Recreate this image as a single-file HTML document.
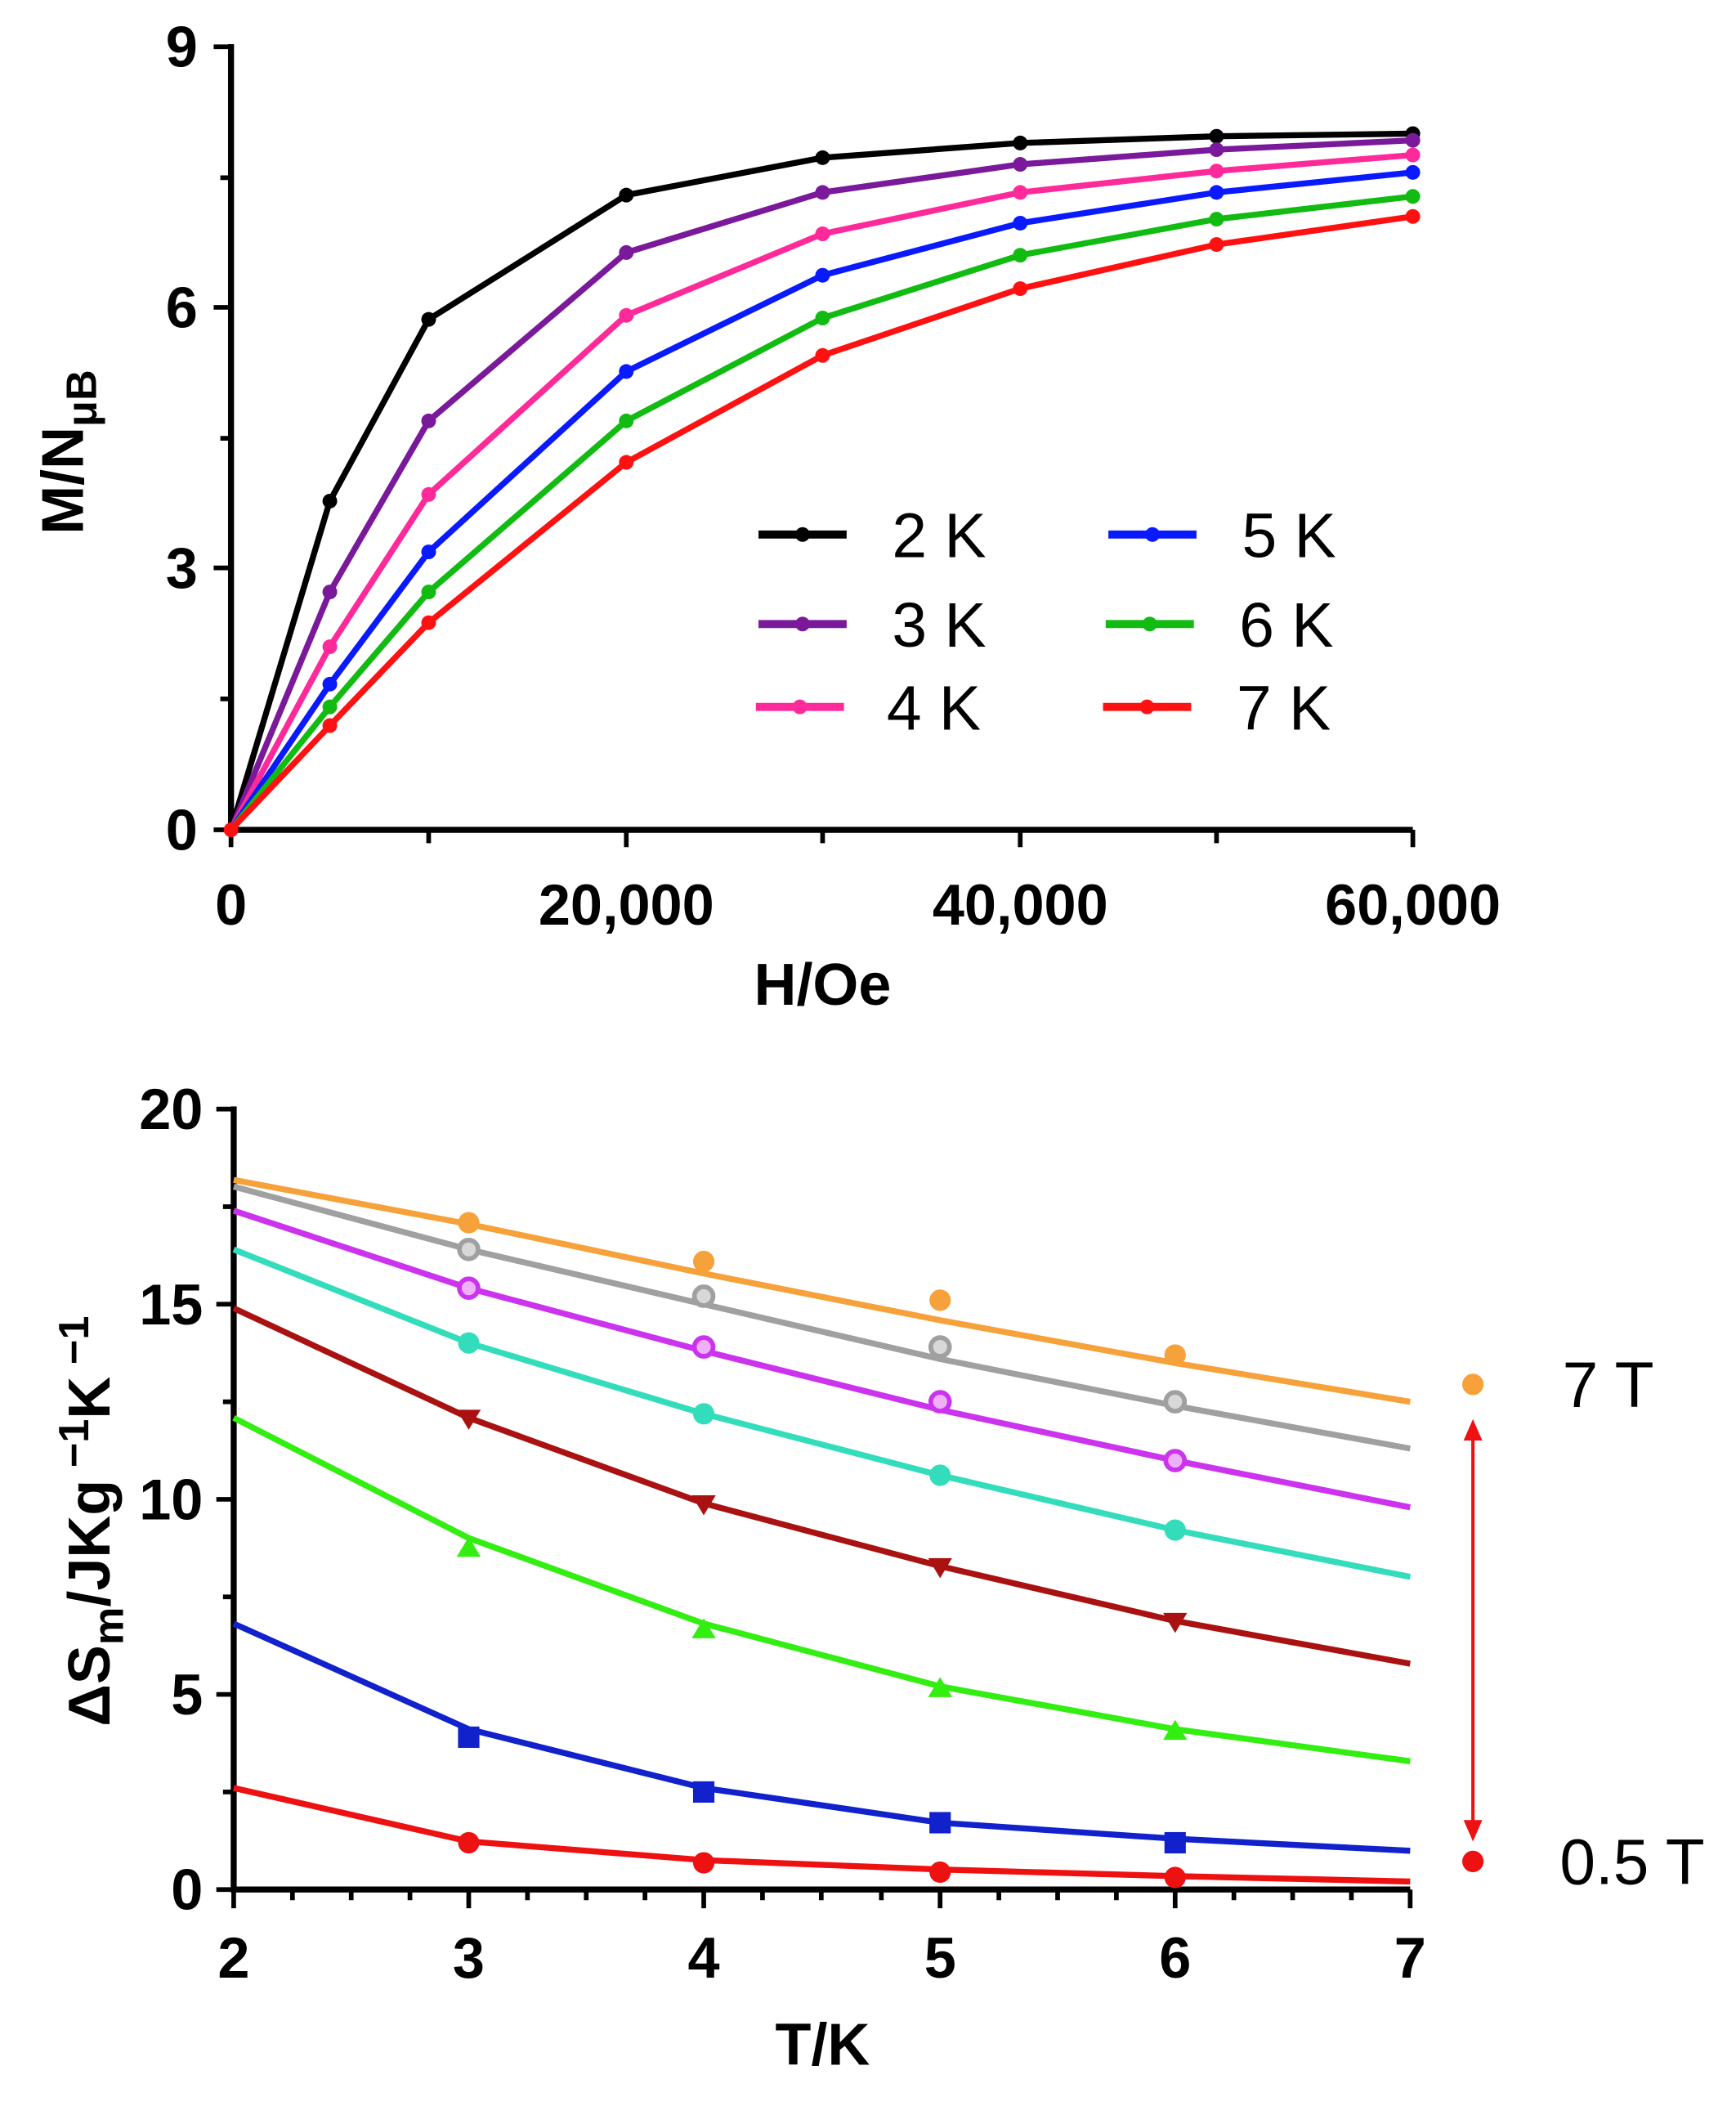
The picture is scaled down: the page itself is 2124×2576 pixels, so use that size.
<!DOCTYPE html>
<html><head><meta charset="utf-8"><style>html,body{margin:0;padding:0;background:#fff}svg{display:block}</style></head>
<body>
<svg width="2124" height="2576" viewBox="0 0 1300 1576" preserveAspectRatio="none" xmlns="http://www.w3.org/2000/svg" font-family="Liberation Sans, sans-serif">
<g stroke="#000" stroke-width="4.5" fill="none">
<path d="M173,33 V621 H1058"/>
</g>
<g stroke="#000" stroke-width="3.5">
<path d="M160,35H173 M160,230H173 M160,425H173 M160,621H173 M165,133H173 M165,328H173 M165,523H173"/>
<path d="M173,621V634 M321,621V631 M469,621V634 M616,621V631 M764,621V634 M911,621V631 M1058,621V634"/>
</g>
<g font-weight="bold" font-size="43" fill="#000">
<text x="148" y="50" text-anchor="end">9</text>
<text x="148" y="245" text-anchor="end">6</text>
<text x="148" y="440" text-anchor="end">3</text>
<text x="148" y="636" text-anchor="end">0</text>
<text x="173" y="692" text-anchor="middle">0</text>
<text x="469" y="692" text-anchor="middle">20,000</text>
<text x="764" y="692" text-anchor="middle">40,000</text>
<text x="1058" y="692" text-anchor="middle">60,000</text>
<text x="616" y="752" text-anchor="middle" font-size="44">H/Oe</text>
<text transform="translate(62,400) rotate(-90)" font-size="44">M/N<tspan font-size="32" dy="10">μB</tspan></text>
</g>
<g fill="none" stroke-width="4.5">
<polyline stroke="#000" points="173,621 247,375 321,239 469,146 616,118 764,107 911,102 1058,100"/>
<polyline stroke="#7a1a9a" points="173,621 247,443 321,315 469,189 616,144 764,123 911,112 1058,105"/>
<polyline stroke="#ff2a9a" points="173,621 247,484 321,370 469,236 616,175 764,144 911,128 1058,116"/>
<polyline stroke="#0a1aff" points="173,621 247,512 321,413 469,278 616,206 764,167 911,144 1058,129"/>
<polyline stroke="#11bb11" points="173,621 247,529 321,443 469,315 616,238 764,191 911,164 1058,147"/>
<polyline stroke="#ff1111" points="173,621 247,543 321,466 469,346 616,266 764,216 911,183 1058,162"/>
</g>
<g>
<g fill="#000"><circle cx="247" cy="375" r="5.5"/><circle cx="321" cy="239" r="5.5"/><circle cx="469" cy="146" r="5.5"/><circle cx="616" cy="118" r="5.5"/><circle cx="764" cy="107" r="5.5"/><circle cx="911" cy="102" r="5.5"/><circle cx="1058" cy="100" r="5.5"/></g>
<g fill="#7a1a9a"><circle cx="247" cy="443" r="5.5"/><circle cx="321" cy="315" r="5.5"/><circle cx="469" cy="189" r="5.5"/><circle cx="616" cy="144" r="5.5"/><circle cx="764" cy="123" r="5.5"/><circle cx="911" cy="112" r="5.5"/><circle cx="1058" cy="105" r="5.5"/></g>
<g fill="#ff2a9a"><circle cx="247" cy="484" r="5.5"/><circle cx="321" cy="370" r="5.5"/><circle cx="469" cy="236" r="5.5"/><circle cx="616" cy="175" r="5.5"/><circle cx="764" cy="144" r="5.5"/><circle cx="911" cy="128" r="5.5"/><circle cx="1058" cy="116" r="5.5"/></g>
<g fill="#0a1aff"><circle cx="247" cy="512" r="5.5"/><circle cx="321" cy="413" r="5.5"/><circle cx="469" cy="278" r="5.5"/><circle cx="616" cy="206" r="5.5"/><circle cx="764" cy="167" r="5.5"/><circle cx="911" cy="144" r="5.5"/><circle cx="1058" cy="129" r="5.5"/></g>
<g fill="#11bb11"><circle cx="247" cy="529" r="5.5"/><circle cx="321" cy="443" r="5.5"/><circle cx="469" cy="315" r="5.5"/><circle cx="616" cy="238" r="5.5"/><circle cx="764" cy="191" r="5.5"/><circle cx="911" cy="164" r="5.5"/><circle cx="1058" cy="147" r="5.5"/></g>
<g fill="#ff1111"><circle cx="173" cy="621" r="5.5"/><circle cx="247" cy="543" r="5.5"/><circle cx="321" cy="466" r="5.5"/><circle cx="469" cy="346" r="5.5"/><circle cx="616" cy="266" r="5.5"/><circle cx="764" cy="216" r="5.5"/><circle cx="911" cy="183" r="5.5"/><circle cx="1058" cy="162" r="5.5"/></g>
</g>
<g stroke-width="6">
<line x1="568" y1="400" x2="634" y2="400" stroke="#000"/>
<line x1="568" y1="467" x2="634" y2="467" stroke="#7a1a9a"/>
<line x1="566" y1="529" x2="632" y2="529" stroke="#ff2a9a"/>
<line x1="830" y1="400" x2="896" y2="400" stroke="#0a1aff"/>
<line x1="828" y1="467" x2="894" y2="467" stroke="#11bb11"/>
<line x1="826" y1="529" x2="892" y2="529" stroke="#ff1111"/>
</g>
<g><circle cx="601" cy="400" r="5.5" fill="#000"/><circle cx="601" cy="467" r="5.5" fill="#7a1a9a"/><circle cx="599" cy="529" r="5.5" fill="#ff2a9a"/><circle cx="863" cy="400" r="5.5" fill="#0a1aff"/><circle cx="861" cy="467" r="5.5" fill="#11bb11"/><circle cx="859" cy="529" r="5.5" fill="#ff1111"/></g>
<g font-size="47" fill="#000">
<text x="668" y="417">2 K</text>
<text x="668" y="484">3 K</text>
<text x="664" y="546">4 K</text>
<text x="930" y="417">5 K</text>
<text x="928" y="484">6 K</text>
<text x="926" y="546">7 K</text>
</g>

<g stroke="#000" stroke-width="4.5" fill="none"><path d="M175,828 V1414 H1056"/></g>
<g stroke="#000" stroke-width="3.5">
<path d="M162,830H175 M162,976H175 M162,1122H175 M162,1268H175 M162,1414H175 M167,903H175 M167,1049H175 M167,1195H175 M167,1341H175"/>
<path d="M175,1414V1428 M351,1414V1428 M527,1414V1428 M704,1414V1428 M880,1414V1428 M1056,1414V1428"/>
<path d="M219,1414V1422 M263,1414V1422 M307,1414V1422 M395,1414V1422 M439,1414V1422 M483,1414V1422 M571,1414V1422 M615,1414V1422 M660,1414V1422 M748,1414V1422 M792,1414V1422 M836,1414V1422 M924,1414V1422 M968,1414V1422 M1012,1414V1422"/>
</g>
<g font-weight="bold" font-size="43" fill="#000">
<text x="152" y="845" text-anchor="end">20</text>
<text x="152" y="991" text-anchor="end">15</text>
<text x="152" y="1137" text-anchor="end">10</text>
<text x="152" y="1283" text-anchor="end">5</text>
<text x="152" y="1429" text-anchor="end">0</text>
<text x="175" y="1480" text-anchor="middle">2</text>
<text x="351" y="1480" text-anchor="middle">3</text>
<text x="527" y="1480" text-anchor="middle">4</text>
<text x="704" y="1480" text-anchor="middle">5</text>
<text x="880" y="1480" text-anchor="middle">6</text>
<text x="1056" y="1480" text-anchor="middle">7</text>
<text x="616" y="1545" text-anchor="middle" font-size="44">T/K</text>
<text transform="translate(82,1292) rotate(-90)" font-size="44">ΔS<tspan font-size="32" dy="10">m</tspan><tspan dy="-10">/JKg</tspan><tspan font-size="32" dy="-16"> −1</tspan><tspan dy="16">K</tspan><tspan font-size="32" dy="-16"> −1</tspan></text>
</g>
<g fill="none" stroke-width="4.5">
<polyline stroke="#f7a13a" points="175,883 351,916 527,953 704,988 880,1020 1056,1049"/>
<polyline stroke="#a0a0a0" points="175,888 351,935 527,976 704,1017 880,1052 1056,1084"/>
<polyline stroke="#cc33ee" points="175,906 351,964 527,1011 704,1055 880,1093 1056,1128"/>
<polyline stroke="#33ddbb" points="175,935 351,1005 527,1058 704,1104 880,1145 1056,1180"/>
<polyline stroke="#aa1111" points="175,979 351,1061 527,1125 704,1172 880,1213 1056,1245"/>
<polyline stroke="#33ee11" points="175,1061 351,1151 527,1215 704,1262 880,1294 1056,1318"/>
<polyline stroke="#1122cc" points="175,1215 351,1294 527,1338 704,1364 880,1376 1056,1385"/>
<polyline stroke="#ee1111" points="175,1338 351,1378 527,1392 704,1399 880,1404 1056,1408"/>
</g>
<g fill="#f7a13a"><circle cx="351" cy="915" r="8"/><circle cx="527" cy="944" r="8"/><circle cx="704" cy="973" r="8"/><circle cx="880" cy="1014" r="8"/><circle cx="1103" cy="1036" r="8"/></g>
<g fill="#d8d8d8" stroke="#a0a0a0" stroke-width="3.5"><circle cx="351" cy="935" r="7"/><circle cx="527" cy="970" r="7"/><circle cx="704" cy="1008" r="7"/><circle cx="880" cy="1049" r="7"/></g>
<g fill="#eeb0f8" stroke="#cc33ee" stroke-width="3.5"><circle cx="351" cy="964" r="7"/><circle cx="527" cy="1008" r="7"/><circle cx="704" cy="1049" r="7"/><circle cx="880" cy="1093" r="7"/></g>
<g fill="#33ddbb"><circle cx="351" cy="1005" r="8"/><circle cx="527" cy="1058" r="8"/><circle cx="704" cy="1104" r="8"/><circle cx="880" cy="1145" r="8"/></g>
<g fill="#aa1111"><path d="M342,1055h18l-9,15z M518,1119h18l-9,15z M695,1166h18l-9,15z M871,1207h18l-9,15z"/></g>
<g fill="#33ee11"><path d="M342,1165h18l-9,-15z M518,1226h18l-9,-15z M695,1270h18l-9,-15z M871,1302h18l-9,-15z"/></g>
<g fill="#1122cc"><rect x="343" y="1292" width="16" height="16"/><rect x="519" y="1333" width="16" height="16"/><rect x="696" y="1356" width="16" height="16"/><rect x="872" y="1371" width="16" height="16"/></g>
<g fill="#ee1111"><circle cx="351" cy="1379" r="8"/><circle cx="527" cy="1394" r="8"/><circle cx="704" cy="1401" r="8"/><circle cx="880" cy="1405" r="8"/><circle cx="1103" cy="1393" r="8"/></g>
<g stroke="#ee1111" stroke-width="2.5"><line x1="1103" y1="1075" x2="1103" y2="1365"/></g>
<g fill="#ee1111"><path d="M1103,1062l-7,16h14z M1103,1378l-7,-16h14z"/></g>
<g font-size="48" fill="#000"><text x="1170" y="1053">7 T</text><text x="1168" y="1410">0.5 T</text></g>
</svg>
</body></html>
